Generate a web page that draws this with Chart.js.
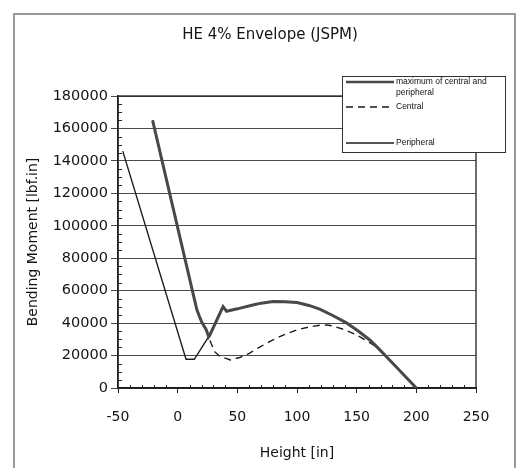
<!DOCTYPE html>
<html><head><meta charset="utf-8">
<script src="https://cdn.jsdelivr.net/npm/chart.js@4/dist/chart.umd.min.js"></script>
<style>html,body{margin:0;padding:0;background:#fff;}</style>
</head><body>
<canvas id="c" width="516" height="468"></canvas>
<script>
const chartTitle = 'HE 4% Envelope (JSPM)';
const xAxisTitle = 'Height [in]';
const yAxisTitle = 'Bending Moment [lbf.in]';
const seriesNames = ['maximum of central and peripheral', 'Central', 'Peripheral'];
const legendLines = [['maximum of central and', 'peripheral'], ['Central'], ['Peripheral']];
const xTickValues = [-50, 0, 50, 100, 150, 200, 250];
const yTickValues = [0, 20000, 40000, 60000, 80000, 100000, 120000, 140000, 160000, 180000];

const maxX = [-21, 16, 18, 20, 24, 26, 27, 38, 41, 50, 63, 70, 80, 90, 100, 110, 119, 130, 141, 151, 161, 168, 175, 187, 200];
const maxY = [165000, 48500, 44500, 40900, 35800, 31600, 32700, 50200, 47300, 48800, 51200, 52300, 53300, 53200, 52700, 50900, 48600, 44700, 40300, 35300, 29600, 24600, 19300, 10000, 0];

const centralX = [-21, 16, 18, 20, 24, 28, 31, 36, 40, 44, 52, 60, 68, 77, 88, 100, 110, 119, 125, 130, 140, 150, 158, 166, 175, 187, 200];
const centralY = [165000, 48500, 44500, 40900, 35800, 27600, 22400, 19000, 18400, 17300, 18800, 21400, 24900, 28600, 32500, 35800, 37600, 38700, 38800, 38300, 35900, 32700, 29300, 25500, 19300, 10000, 0];

const peripheralX = [-46, 7, 14, 20, 27, 38, 41, 50, 63, 70, 80, 90, 100, 110, 119, 130, 141, 151, 161, 168, 175, 187, 200];
const peripheralY = [146000, 17700, 17700, 24800, 32700, 50200, 47300, 48800, 51200, 52300, 53300, 53200, 52700, 50900, 48600, 44700, 40300, 35300, 29600, 24600, 19300, 10000, 0];

const pts = (xs, ys) => xs.map((x, i) => ({x: x, y: ys[i]}));
const FONT = "'DejaVu Sans', sans-serif";

const decor = {
  id: 'decor',
  beforeDraw(chart) {
    const ctx = chart.ctx;
    ctx.save();
    ctx.fillStyle = '#fff';
    ctx.fillRect(0, 0, chart.width, chart.height);
    ctx.strokeStyle = '#9a9a9a';
    ctx.lineWidth = 2;
    ctx.strokeRect(14, 14, 501, 470);
    ctx.fillStyle = '#151515';
    ctx.font = '15px ' + FONT;
    ctx.textAlign = 'center';
    ctx.textBaseline = 'middle';
    ctx.fillText(chartTitle, 270, 35);
    ctx.restore();
  },
  beforeDatasetsDraw(chart) {
    const ctx = chart.ctx, a = chart.chartArea;
    const xs = chart.scales.x, ys = chart.scales.y;
    ctx.save();
    ctx.strokeStyle = '#222';
    ctx.lineWidth = 1.3;
    ctx.strokeRect(a.left, a.top, a.right - a.left, a.bottom - a.top);
    ctx.lineWidth = 1;
    ctx.beginPath();
    for (let v = -50; v <= 250; v += 10) {
      if (v % 50 === 0) continue;
      const px = Math.round(xs.getPixelForValue(v)) + 0.5;
      ctx.moveTo(px, a.bottom); ctx.lineTo(px, a.bottom - 3);
    }
    for (let v = 0; v <= 180000; v += 5000) {
      if (v % 20000 === 0) continue;
      const py = Math.round(ys.getPixelForValue(v)) + 0.5;
      ctx.moveTo(a.left, py); ctx.lineTo(a.left + 4, py);
    }
    ctx.stroke();
    ctx.restore();
  },
  afterDraw(chart) {
    const ctx = chart.ctx;
    const ds = chart.data.datasets;
    ctx.save();
    ctx.fillStyle = '#fff';
    ctx.fillRect(342, 76, 164, 77);
    ctx.strokeStyle = '#333';
    ctx.lineWidth = 1;
    ctx.strokeRect(342.5, 76.5, 163, 76);
    const rows = [82, 107, 143];
    ctx.font = "8.5px 'Liberation Sans', Arial, sans-serif";
    ctx.textAlign = 'left';
    ctx.textBaseline = 'middle';
    ds.forEach((d, i) => {
      const y = rows[i];
      ctx.strokeStyle = d.borderColor;
      ctx.lineWidth = i === 0 ? 2.5 : d.borderWidth;
      ctx.setLineDash(d.borderDash || []);
      ctx.beginPath();
      ctx.moveTo(346, y); ctx.lineTo(394, y);
      ctx.stroke();
      ctx.setLineDash([]);
      ctx.fillStyle = '#111';
      legendLines[i].forEach((t, j) => ctx.fillText(t, 396, y + j * 11));
    });
    ctx.restore();
  }
};

new Chart(document.getElementById('c'), {
  type: 'line',
  data: {
    datasets: [
      {label: seriesNames[0], data: pts(maxX, maxY), borderColor: '#484848', borderWidth: 3, pointRadius: 0, tension: 0, fill: false},
      {label: seriesNames[1], data: pts(centralX, centralY), borderColor: '#1a1a1a', borderWidth: 1.4, borderDash: [7, 5], pointRadius: 0, tension: 0, fill: false},
      {label: seriesNames[2], data: pts(peripheralX, peripheralY), borderColor: '#1e1e1e', borderWidth: 1.4, pointRadius: 0, tension: 0, fill: false}
    ]
  },
  options: {
    responsive: false,
    animation: false,
    devicePixelRatio: 1,
    layout: {padding: {top: 96, right: 40, left: 0, bottom: 0}},
    plugins: {legend: {display: false}, title: {display: false}, tooltip: {enabled: false}},
    scales: {
      x: {
        type: 'linear', min: -50, max: 250,
        afterBuildTicks: s => { s.ticks = xTickValues.map(v => ({value: v})); },
        afterFit: s => { s.height = 80; },
        grid: {display: true, drawOnChartArea: false, drawTicks: true, tickLength: 5, color: '#222', lineWidth: 1},
        border: {display: true, color: '#111', width: 1.5},
        ticks: {color: '#151515', font: {family: FONT, size: 14, lineHeight: 1.2}, padding: 16, maxRotation: 0, callback: v => String(v)},
        title: {display: true, text: xAxisTitle, color: '#151515', font: {family: FONT, size: 14, lineHeight: 1.2}, padding: {top: 0, bottom: 6}}
      },
      y: {
        type: 'linear', min: 0, max: 180000,
        afterBuildTicks: s => { s.ticks = yTickValues.map(v => ({value: v})); },
        afterFit: s => { s.width = 118; },
        grid: {display: true, drawOnChartArea: true, drawTicks: true, tickLength: 7, color: '#4a4a4a', lineWidth: 1},
        border: {display: true, color: '#111', width: 1.5},
        ticks: {color: '#151515', font: {family: FONT, size: 14.5, lineHeight: 1.2}, padding: 3, callback: v => String(v)},
        title: {display: true, text: yAxisTitle, color: '#151515', font: {family: FONT, size: 14, lineHeight: 1.2}, padding: {top: 25, bottom: 0}}
      }
    }
  },
  plugins: [decor]
});
</script>
</body></html>
